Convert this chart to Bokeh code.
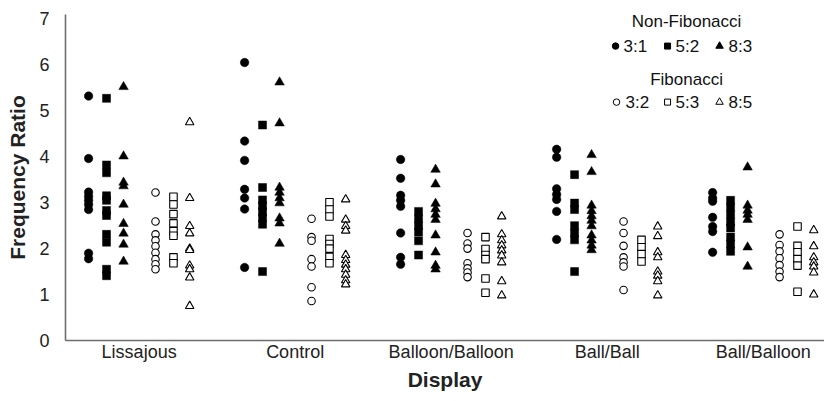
from bokeh.plotting import figure
from bokeh.models import Range1d, FixedTicker
from bokeh.core.properties import value
from bokeh.embed import file_html
from bokeh.resources import INLINE

displays = ["Lissajous", "Control", "Balloon/Balloon", "Ball/Ball", "Ball/Balloon"]
ratio_labels = ["3:1", "5:2", "8:3", "3:2", "5:3", "8:5"]

# values per ratio, one list per display (same order as displays)
r3_1 = [
    [5.32, 3.96, 3.23, 3.14, 3.05, 2.96, 2.85, 1.90, 1.78],
    [6.05, 4.34, 3.92, 3.29, 3.10, 2.86, 1.59],
    [3.94, 3.53, 3.16, 3.05, 2.92, 2.34, 1.81, 1.66],
    [4.16, 3.99, 3.30, 3.18, 3.07, 2.81, 2.20],
    [3.22, 3.10, 3.03, 2.68, 2.48, 2.37, 1.92],
]
r5_2 = [
    [5.27, 3.82, 3.65, 3.15, 3.05, 2.83, 2.72, 2.31, 2.14, 1.55, 1.41],
    [4.69, 3.33, 3.06, 2.93, 2.80, 2.67, 2.53, 1.50],
    [2.81, 2.65, 2.50, 2.36, 2.17, 1.86],
    [3.61, 2.99, 2.85, 2.50, 2.34, 2.19, 1.50],
    [3.05, 2.90, 2.74, 2.58, 2.45, 2.25, 2.10, 1.94],
]
r8_3 = [
    [5.52, 4.01, 3.44, 3.36, 2.96, 2.54, 2.33, 2.09, 1.72],
    [5.62, 4.73, 3.33, 3.22, 3.10, 2.99, 2.66, 2.55, 2.11],
    [3.72, 3.40, 2.98, 2.86, 2.74, 2.63, 2.29, 1.92, 1.63, 1.55],
    [4.04, 3.67, 2.94, 2.82, 2.71, 2.61, 2.49, 2.29, 2.18, 2.07, 1.97],
    [3.77, 2.94, 2.83, 2.74, 2.63, 2.03, 1.61],
]
r3_2 = [
    [3.22, 2.59, 2.31, 2.18, 2.05, 1.91, 1.77, 1.66, 1.55],
    [2.65, 2.25, 2.17, 1.77, 1.61, 1.16, 0.86],
    [2.34, 2.11, 2.00, 1.68, 1.57, 1.48, 1.38],
    [2.59, 2.34, 2.06, 1.81, 1.70, 1.61, 1.10],
    [2.31, 2.08, 1.94, 1.79, 1.64, 1.50, 1.38],
]
r5_3 = [
    [3.13, 2.96, 2.75, 2.55, 2.38, 2.28, 1.81, 1.68],
    [3.01, 2.85, 2.70, 2.21, 2.10, 2.00, 1.82, 1.68],
    [2.25, 1.99, 1.86, 1.77, 1.35, 1.04],
    [2.19, 2.03, 1.88, 1.72],
    [2.48, 2.06, 1.92, 1.77, 1.63, 1.06],
]
r8_5 = [
    [4.75, 3.10, 2.49, 2.33, 2.00, 1.97, 1.63, 1.55, 1.37, 0.75],
    [3.07, 2.63, 2.49, 2.39, 1.86, 1.75, 1.65, 1.55, 1.43, 1.31, 1.22],
    [2.70, 2.31, 2.18, 2.07, 1.96, 1.85, 1.70, 1.29, 0.98],
    [2.48, 2.27, 1.92, 1.81, 1.50, 1.41, 1.29, 0.98],
    [2.40, 2.05, 1.81, 1.70, 1.61, 1.48, 1.00],
]
y_ticks = [0, 1, 2, 3, 4, 5, 6, 7]

series = [r3_1, r5_2, r8_3, r3_2, r5_3, r8_5]
offsets = [-0.324, -0.209, -0.10, 0.105, 0.22, 0.324]
markers = ["circle", "square", "triangle", "circle", "square", "triangle"]
sizes = [8.5, 8, 9.5, 7.5, 7.5, 8.5]
filled = [True, True, True, False, False, False]

FONT = "Liberation Sans"
X0, X1 = -0.472, 4.393
Y1 = 7.095

p = figure(width=824, height=393, x_range=Range1d(X0, X1), y_range=Range1d(0, Y1),
           output_backend="svg", toolbar_location=None,
           min_border_left=65, min_border_right=0, min_border_top=14, min_border_bottom=52)
p.outline_line_color = None
p.xgrid.visible = False
p.ygrid.visible = False
p.background_fill_color = "white"

for vals, off, mk, sz, fl in zip(series, offsets, markers, sizes, filled):
    xs, ys = [], []
    for gi, group in enumerate(vals):
        for v in group:
            xs.append(gi + off)
            ys.append(v)
    if fl:
        p.scatter(xs, ys, marker=mk, size=sz, fill_color="black", line_color="black", line_width=0.5)
    else:
        p.scatter(xs, ys, marker=mk, size=sz, fill_color="white", line_color="black", line_width=1.1)

# axes
for ax in (p.xaxis[0], p.yaxis[0]):
    ax.axis_line_color = "#6e6e6e"
    ax.axis_line_width = 1.6
    ax.major_tick_line_color = None
    ax.minor_tick_line_color = None
    ax.major_tick_out = 0
    ax.major_tick_in = 0
    ax.minor_tick_out = 0
    ax.minor_tick_in = 0
    ax.major_label_text_font = FONT
    ax.major_label_text_font_size = "18px"
    ax.major_label_text_color = "#222222"
    ax.axis_label_text_font = FONT
    ax.axis_label_text_font_style = "bold"
    ax.axis_label_text_font_size = "21px"
    ax.axis_label_text_color = "#222222"

p.xaxis.ticker = FixedTicker(ticks=list(range(len(displays))))
p.xaxis.major_label_overrides = {i: d for i, d in enumerate(displays)}
p.xaxis.major_label_standoff = 1
p.xaxis.axis_label = "Display"
p.xaxis.axis_label_standoff = 3

p.yaxis.ticker = FixedTicker(ticks=y_ticks)
p.yaxis.major_label_standoff = 16
p.yaxis.axis_label = "Frequency Ratio"
p.yaxis.axis_label_standoff = 7

# legend (positions given in page pixels, converted to data coordinates)
PX_PER_X = 156.0
PX_PER_Y = 320.0 / Y1


def dx(px):
    return X0 + (px - 73) / PX_PER_X


def dy(py):
    return (340 - py) / PX_PER_Y


p.text([dx(694)], [dy(27)], text=["Non-Fibonacci"], text_font=value(FONT), text_font_size="17px",
       text_align="center", text_baseline="middle", text_color="#111111")
p.text([dx(694)], [dy(84)], text=["Fibonacci"], text_font=value(FONT), text_font_size="17px",
       text_align="center", text_baseline="middle", text_color="#111111")

rows = [(51, [623, 675, 727], [631, 683, 736], ratio_labels[:3], True),
        (106, [624, 675, 727], [633, 683, 736], ratio_labels[3:], False)]
for ypx, mx, tx, labs, fl in rows:
    for k in range(3):
        mk = markers[k]
        sz = [6.5, 6, 7.5][k]
        if fl:
            p.scatter([dx(mx[k])], [dy(ypx)], marker=mk, size=sz, fill_color="black", line_color="black")
        else:
            p.scatter([dx(mx[k])], [dy(ypx)], marker=mk, size=sz, fill_color="white", line_color="black", line_width=1)
        p.text([dx(tx[k])], [dy(ypx)], text=[labs[k]], text_font=value(FONT), text_font_size="17px",
               text_align="left", text_baseline="middle", text_color="#111111")

open("out.html", "w").write(file_html(p, INLINE))
